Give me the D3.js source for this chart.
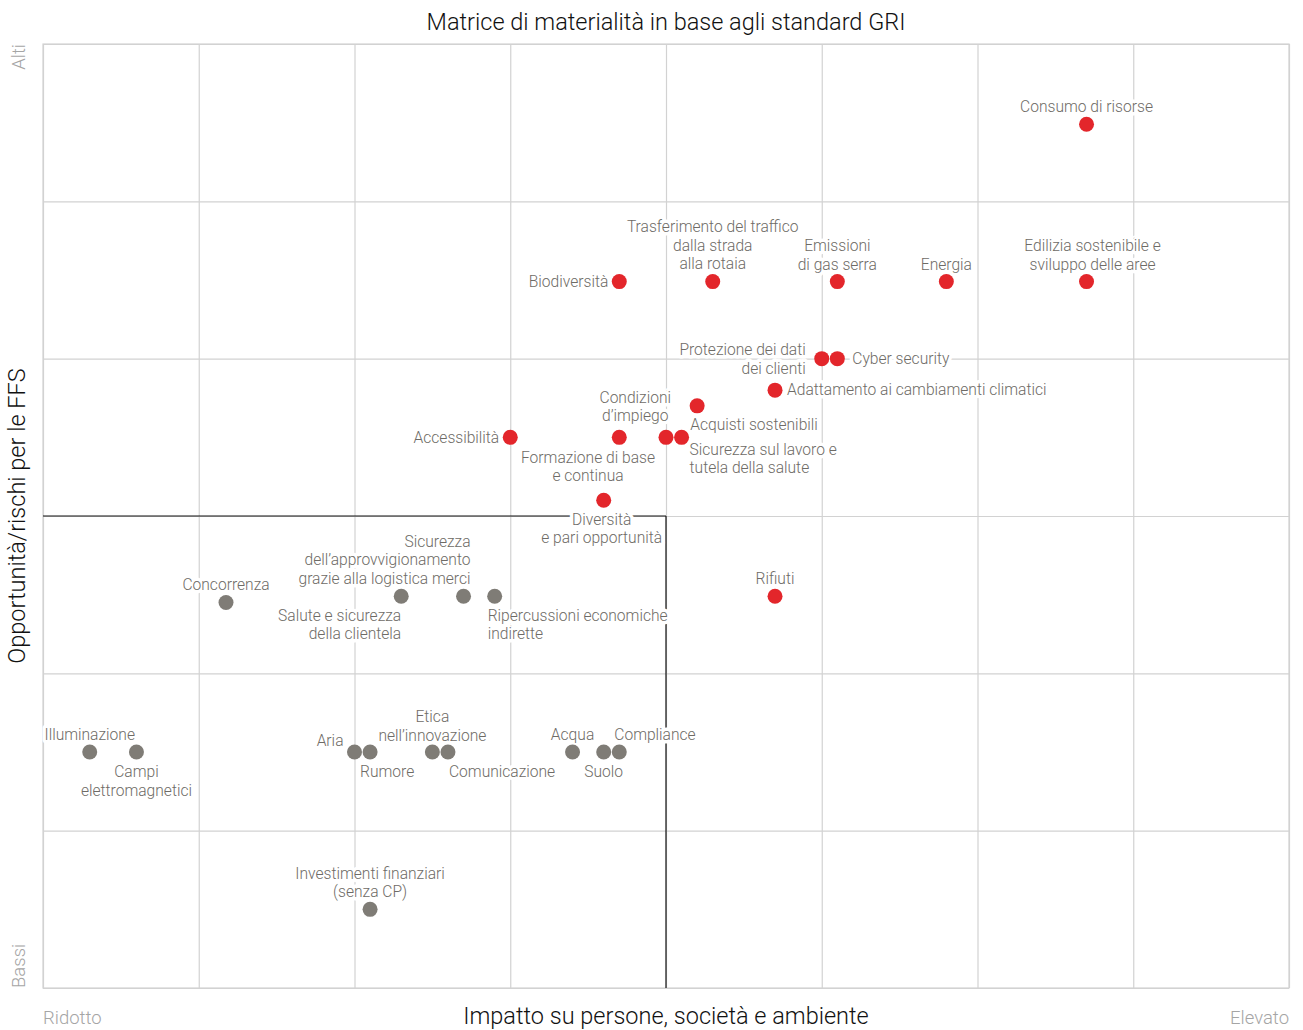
<!DOCTYPE html>
<html>
<head>
  <meta charset="utf-8">
  <title>Matrice di materialità</title>
  <script src="https://d3js.org/d3.v7.min.js"></script>
  <style>
    body { margin: 0; background: #fff; }
    text { font-family: Roboto, "Liberation Sans", sans-serif; font-weight: 300; }
  </style>
</head>
<body>
  <div id="chart"></div>

  <script>
    // Data: topic names, impact (x, 0-8), opportunity/risk (y, 0-6), group
    const topics = [
      "Consumo di risorse", "Biodiversità", "Trasferimento del traffico\ndalla strada\nalla rotaia",
      "Emissioni\ndi gas serra", "Energia", "Edilizia sostenibile e\nsviluppo delle aree",
      "Protezione dei dati\ndei clienti", "Cyber security", "Adattamento ai cambiamenti climatici",
      "Acquisti sostenibili", "Condizioni\nd’impiego", "Accessibilità", "Formazione di base\ne continua",
      "Sicurezza sul lavoro e\ntutela della salute", "Diversità\ne  pari opportunità", "Rifiuti",
      "Concorrenza", "Sicurezza\ndell’approvvigionamento\ngrazie alla logistica merci",
      "Salute e sicurezza\ndella clientela", "Ripercussioni economiche\nindirette",
      "Illuminazione", "Campi\nelettromagnetici", "Aria", "Rumore", "Etica\nnell’innovazione",
      "Comunicazione", "Acqua", "Suolo", "Compliance", "Investimenti finanziari\n(senza CP)"
    ];
    const impact = [
      6.7, 3.7, 4.3,
      5.1, 5.8, 6.7,
      5.0, 5.1, 4.7,
      4.2, 3.7, 3.0, 4.0,
      4.1, 3.6, 4.7,
      1.175, 2.7,
      2.3, 2.9,
      0.3, 0.6, 2.0, 2.1, 2.5,
      2.6, 3.4, 3.6, 3.7, 2.1
    ];
    const opportunity = [
      5.49, 4.49, 4.49,
      4.49, 4.49, 4.49,
      4.0, 4.0, 3.8,
      3.7, 3.5, 3.5, 3.5,
      3.5, 3.1, 2.49,
      2.45, 2.49,
      2.49, 2.49,
      1.5, 1.5, 1.5, 1.5, 1.5,
      1.5, 1.5, 1.5, 1.5, 0.5
    ];
    const material = [
      true, true, true,
      true, true, true,
      true, true, true,
      true, true, true, true,
      true, true, true,
      false, false,
      false, false,
      false, false, false, false, false,
      false, false, false, false, false
    ];

    const title = "Matrice di materialità in base agli standard GRI";
    const xTitle = "Impatto su persone, società e ambiente";
    const yTitle = "Opportunità/rischi per le FFS";
    const xEnds = ["Ridotto", "Elevato"];
    const yEnds = ["Bassi", "Alti"];

    // Label placement per topic: [anchor, dx, dy of first line centre]
    const labelPos = [
      ["middle", 0, -18], ["end", -11, 0], ["middle", 0, -55],
      ["middle", 0, -36], ["middle", 0, -17], ["middle", 6, -36],
      ["end", -16, -9], ["start", 15, 0], ["start", 12, -1],
      ["start", -7, 19], ["middle", 16, -40], ["end", -11, 0], ["middle", -78, 20],
      ["start", 8, 12], ["middle", -2, 19], ["middle", 0, -18],
      ["middle", 0, -18], ["end", 7, -55],
      ["end", 0, 19], ["start", -7, 19],
      ["middle", 0, -17], ["middle", 0, 20], ["end", -11, -11], ["start", -10, 20], ["middle", 0, -35],
      ["start", 1, 20], ["middle", 0, -17], ["middle", 0, 20], ["start", -5, -17], ["middle", 0, -36]
    ];

    const W = 1303, H = 1030;
    const margin = { top: 44, right: 14, bottom: 42, left: 43 };
    const width = W - margin.left - margin.right,
          height = H - margin.top - margin.bottom;

    const svg = d3.select("#chart").append("svg")
      .attr("width", W).attr("height", H);

    const g = svg.append("g")
      .attr("transform", "translate(" + margin.left + "," + margin.top + ")");

    const x = d3.scaleLinear().domain([0, 8]).range([0, width]);
    const y = d3.scaleLinear().domain([0, 6]).range([height, 0]);

    // grid
    g.append("g")
      .attr("transform", "translate(0," + height + ")")
      .call(d3.axisBottom(x).ticks(8).tickSize(-height).tickFormat(""));
    g.append("g")
      .call(d3.axisLeft(y).ticks(6).tickSize(-width).tickFormat(""));
    g.selectAll(".tick line").attr("stroke", "#d2d2d2").attr("stroke-width", 1.2);
    g.selectAll(".domain").remove();
    g.append("rect").attr("width", width).attr("height", height)
      .attr("fill", "none").attr("stroke", "#d2d2d2").attr("stroke-width", 1.2);

    // quadrant lines
    g.append("line").attr("x1", x(4)).attr("x2", x(4)).attr("y1", y(0)).attr("y2", y(3))
      .attr("stroke", "#111").attr("stroke-width", 1.2);
    g.append("line").attr("x1", x(0)).attr("x2", x(4)).attr("y1", y(3)).attr("y2", y(3))
      .attr("stroke", "#111").attr("stroke-width", 1.2);

    const idx = d3.range(topics.length);

    // labels with white halo
    const labels = g.selectAll(".lbl").data(idx).enter().append("text")
      .attr("class", "lbl")
      .attr("x", i => x(impact[i]) + labelPos[i][1])
      .attr("y", i => y(opportunity[i]) + labelPos[i][2])
      .attr("text-anchor", i => labelPos[i][0])
      .attr("font-size", 15.6)
      .attr("fill", "#6e6b66")
      .attr("stroke", "#fff").attr("stroke-width", 7)
      .attr("stroke-linejoin", "round")
      .attr("paint-order", "stroke");
    labels.each(function(i) {
      const lines = topics[i].split("\n");
      const t = d3.select(this);
      lines.forEach((l, k) => {
        t.append("tspan")
          .attr("x", x(impact[i]) + labelPos[i][1])
          .attr("dy", k === 0 ? "0.35em" : "18.5")
          .text(l);
      });
    });

    // points
    g.selectAll(".dot").data(idx).enter().append("circle")
      .attr("class", "dot")
      .attr("cx", i => x(impact[i]))
      .attr("cy", i => y(opportunity[i]))
      .attr("r", 7.5)
      .attr("fill", i => material[i] ? "#e3262b" : "#7f7c76");

    // titles
    svg.append("text").attr("x", margin.left + width / 2).attr("y", 30)
      .attr("text-anchor", "middle").attr("font-size", 23.5).attr("fill", "#111").text(title);
    svg.append("text").attr("x", margin.left + width / 2).attr("y", 1024)
      .attr("text-anchor", "middle").attr("font-size", 23.5).attr("fill", "#111").text(xTitle);
    svg.append("text").attr("x", margin.left).attr("y", 1024)
      .attr("text-anchor", "start").attr("font-size", 18.5).attr("fill", "#a5a5a5").text(xEnds[0]);
    svg.append("text").attr("x", margin.left + width).attr("y", 1024)
      .attr("text-anchor", "end").attr("font-size", 18.5).attr("fill", "#a5a5a5").text(xEnds[1]);

    svg.append("text").attr("transform", "translate(25," + (margin.top + height / 2) + ") rotate(-90)")
      .attr("text-anchor", "middle").attr("font-size", 23.5).attr("fill", "#111").text(yTitle);
    svg.append("text").attr("transform", "translate(25," + (margin.top + height) + ") rotate(-90)")
      .attr("text-anchor", "start").attr("font-size", 18.5).attr("fill", "#a5a5a5").text(yEnds[0]);
    svg.append("text").attr("transform", "translate(25," + margin.top + ") rotate(-90)")
      .attr("text-anchor", "end").attr("font-size", 18.5).attr("fill", "#a5a5a5").text(yEnds[1]);
  </script>
</body>
</html>
